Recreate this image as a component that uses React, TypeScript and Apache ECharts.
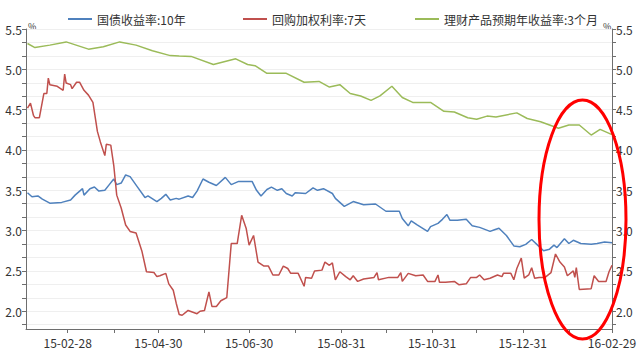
import React, { useEffect, useRef } from "react";
import * as echarts from "echarts";

const legendNames = ["国债收益率:10年", "回购加权利率:7天", "理财产品预期年收益率:3个月"];

const xLabelDates = ["2015-02-28", "2015-04-30", "2015-06-30", "2015-08-31", "2015-10-31", "2015-12-31", "2016-02-29"];
const xTickDates = [
  "2015-02-28", "2015-03-31", "2015-04-30", "2015-05-31", "2015-06-30", "2015-07-31",
  "2015-08-31", "2015-09-30", "2015-10-31", "2015-11-30", "2015-12-31", "2016-01-31", "2016-02-29",
];
const yLabels = [2.0, 2.5, 3.0, 3.5, 4.0, 4.5, 5.0, 5.5];

const bond10Y: [string, number][] = [
  ["2015-02-01", 3.47], ["2015-02-04", 3.42], ["2015-02-08", 3.43], ["2015-02-11", 3.39], ["2015-02-16", 3.34],
  ["2015-02-24", 3.35], ["2015-03-02", 3.38], ["2015-03-05", 3.44], ["2015-03-10", 3.52], ["2015-03-11", 3.44],
  ["2015-03-15", 3.52], ["2015-03-18", 3.54], ["2015-03-21", 3.49], ["2015-03-25", 3.50], ["2015-03-28", 3.57],
  ["2015-03-31", 3.64], ["2015-04-02", 3.57], ["2015-04-05", 3.59], ["2015-04-08", 3.69], ["2015-04-11", 3.67],
  ["2015-04-16", 3.54], ["2015-04-21", 3.41], ["2015-04-23", 3.43], ["2015-04-29", 3.36], ["2015-05-02", 3.40],
  ["2015-05-05", 3.45], ["2015-05-08", 3.38], ["2015-05-12", 3.40], ["2015-05-14", 3.39], ["2015-05-20", 3.43],
  ["2015-05-23", 3.41], ["2015-05-26", 3.49], ["2015-05-30", 3.64], ["2015-06-03", 3.60], ["2015-06-08", 3.56],
  ["2015-06-14", 3.66], ["2015-06-18", 3.57], ["2015-06-23", 3.61], ["2015-07-02", 3.61], ["2015-07-05", 3.50],
  ["2015-07-08", 3.43], ["2015-07-12", 3.51], ["2015-07-15", 3.54], ["2015-07-19", 3.50], ["2015-07-22", 3.52],
  ["2015-07-25", 3.46], ["2015-07-29", 3.43], ["2015-07-31", 3.47], ["2015-08-07", 3.46], ["2015-08-12", 3.53],
  ["2015-08-15", 3.50], ["2015-08-19", 3.52], ["2015-08-25", 3.46], ["2015-08-27", 3.40], ["2015-09-02", 3.30],
  ["2015-09-08", 3.36], ["2015-09-15", 3.32], ["2015-09-23", 3.33], ["2015-09-30", 3.24], ["2015-10-09", 3.24],
  ["2015-10-11", 3.15], ["2015-10-15", 3.06], ["2015-10-17", 3.12], ["2015-10-21", 3.07], ["2015-10-28", 2.99],
  ["2015-10-30", 3.05], ["2015-11-04", 3.09], ["2015-11-07", 3.14], ["2015-11-10", 3.20], ["2015-11-12", 3.13],
  ["2015-11-17", 3.13], ["2015-11-23", 3.14], ["2015-11-27", 3.06], ["2015-12-02", 3.04], ["2015-12-09", 2.99],
  ["2015-12-12", 3.01], ["2015-12-15", 3.03], ["2015-12-20", 2.94], ["2015-12-25", 2.81], ["2015-12-29", 2.80],
  ["2016-01-02", 2.83], ["2016-01-06", 2.89], ["2016-01-10", 2.82], ["2016-01-14", 2.75], ["2016-01-18", 2.77],
  ["2016-01-21", 2.82], ["2016-01-23", 2.79], ["2016-01-28", 2.90], ["2016-01-31", 2.84], ["2016-02-03", 2.88],
  ["2016-02-08", 2.84], ["2016-02-15", 2.83], ["2016-02-19", 2.84], ["2016-02-24", 2.86], ["2016-02-29", 2.85],
];

const repo7D: [string, number][] = [
  ["2015-02-01", 4.52], ["2015-02-03", 4.58], ["2015-02-05", 4.43], ["2015-02-06", 4.40], ["2015-02-09", 4.40],
  ["2015-02-10", 4.50], ["2015-02-12", 4.70], ["2015-02-14", 4.70], ["2015-02-15", 4.89], ["2015-02-16", 4.81],
  ["2015-02-21", 4.79], ["2015-02-25", 4.74], ["2015-02-26", 4.94], ["2015-02-27", 4.83], ["2015-03-02", 4.81],
  ["2015-03-03", 4.76], ["2015-03-06", 4.84], ["2015-03-08", 4.84], ["2015-03-11", 4.74], ["2015-03-14", 4.68],
  ["2015-03-17", 4.59], ["2015-03-20", 4.23], ["2015-03-22", 4.10], ["2015-03-25", 3.93], ["2015-03-26", 4.07],
  ["2015-03-29", 4.06], ["2015-03-31", 3.81], ["2015-04-02", 3.44], ["2015-04-05", 3.28], ["2015-04-08", 3.07],
  ["2015-04-11", 2.99], ["2015-04-15", 2.97], ["2015-04-19", 2.74], ["2015-04-22", 2.49], ["2015-04-27", 2.48],
  ["2015-04-29", 2.43], ["2015-05-01", 2.44], ["2015-05-05", 2.47], ["2015-05-07", 2.34], ["2015-05-10", 2.26],
  ["2015-05-12", 2.10], ["2015-05-14", 1.96], ["2015-05-16", 1.95], ["2015-05-20", 2.01], ["2015-05-26", 1.97],
  ["2015-05-28", 2.00], ["2015-05-31", 2.01], ["2015-06-03", 2.24], ["2015-06-05", 2.06], ["2015-06-08", 2.06],
  ["2015-06-11", 2.13], ["2015-06-15", 2.17], ["2015-06-18", 2.84], ["2015-06-22", 2.84], ["2015-06-25", 3.19],
  ["2015-06-28", 3.03], ["2015-06-30", 2.82], ["2015-07-03", 2.94], ["2015-07-06", 2.61], ["2015-07-10", 2.56],
  ["2015-07-13", 2.56], ["2015-07-16", 2.45], ["2015-07-20", 2.45], ["2015-07-23", 2.56], ["2015-07-26", 2.53],
  ["2015-07-28", 2.47], ["2015-08-02", 2.47], ["2015-08-06", 2.31], ["2015-08-07", 2.42], ["2015-08-11", 2.41],
  ["2015-08-13", 2.50], ["2015-08-18", 2.51], ["2015-08-20", 2.61], ["2015-08-23", 2.57], ["2015-08-25", 2.60],
  ["2015-08-27", 2.39], ["2015-08-30", 2.49], ["2015-09-03", 2.43], ["2015-09-06", 2.39], ["2015-09-08", 2.44],
  ["2015-09-11", 2.37], ["2015-09-15", 2.40], ["2015-09-22", 2.42], ["2015-09-24", 2.48], ["2015-09-25", 2.39],
  ["2015-10-02", 2.42], ["2015-10-08", 2.42], ["2015-10-10", 2.48], ["2015-10-11", 2.37], ["2015-10-15", 2.47],
  ["2015-10-20", 2.44], ["2015-10-25", 2.45], ["2015-10-28", 2.37], ["2015-11-02", 2.37], ["2015-11-04", 2.45],
  ["2015-11-05", 2.36], ["2015-11-09", 2.36], ["2015-11-15", 2.37], ["2015-11-18", 2.33], ["2015-11-23", 2.34],
  ["2015-11-26", 2.42], ["2015-11-30", 2.42], ["2015-12-02", 2.45], ["2015-12-05", 2.39], ["2015-12-09", 2.41],
  ["2015-12-14", 2.45], ["2015-12-17", 2.43], ["2015-12-18", 2.47], ["2015-12-23", 2.47], ["2015-12-25", 2.39],
  ["2015-12-27", 2.53], ["2015-12-30", 2.66], ["2016-01-01", 2.41], ["2016-01-04", 2.45], ["2016-01-06", 2.54],
  ["2016-01-08", 2.41], ["2016-01-11", 2.42], ["2016-01-15", 2.42], ["2016-01-19", 2.48], ["2016-01-22", 2.71],
  ["2016-01-25", 2.61], ["2016-01-28", 2.55], ["2016-01-30", 2.44], ["2016-02-03", 2.50], ["2016-02-04", 2.42],
  ["2016-02-05", 2.54], ["2016-02-07", 2.27], ["2016-02-15", 2.28], ["2016-02-17", 2.44], ["2016-02-20", 2.37],
  ["2016-02-25", 2.37], ["2016-02-27", 2.49], ["2016-02-29", 2.57],
];

const wealth3M: [string, number][] = [
  ["2015-02-01", 5.32], ["2015-02-06", 5.27], ["2015-02-16", 5.30], ["2015-02-27", 5.34], ["2015-03-14", 5.25],
  ["2015-03-24", 5.28], ["2015-04-04", 5.34], ["2015-04-15", 5.30], ["2015-04-26", 5.23], ["2015-05-08", 5.17],
  ["2015-05-14", 5.165], ["2015-05-22", 5.16], ["2015-06-06", 5.06], ["2015-06-21", 5.13], ["2015-06-29", 5.06],
  ["2015-07-04", 5.045], ["2015-07-12", 4.95], ["2015-07-25", 4.95], ["2015-08-06", 4.84], ["2015-08-16", 4.85],
  ["2015-08-23", 4.78], ["2015-08-30", 4.81], ["2015-09-06", 4.70], ["2015-09-13", 4.67], ["2015-09-20", 4.615],
  ["2015-09-26", 4.67], ["2015-10-04", 4.79], ["2015-10-11", 4.65], ["2015-10-18", 4.59], ["2015-10-30", 4.59],
  ["2015-11-08", 4.48], ["2015-11-15", 4.47], ["2015-11-24", 4.40], ["2015-11-30", 4.38], ["2015-12-07", 4.42],
  ["2015-12-13", 4.41], ["2015-12-27", 4.46], ["2016-01-03", 4.39], ["2016-01-12", 4.35], ["2016-01-24", 4.27],
  ["2016-01-31", 4.31], ["2016-02-07", 4.31], ["2016-02-15", 4.185], ["2016-02-21", 4.255], ["2016-02-29", 4.19],
];

const ts = (s: string) => {
  const [y, m, d] = s.split("-").map(Number);
  return Date.UTC(y, m - 1, d);
};
const pad = (n: number) => (n < 10 ? "0" + n : "" + n);
const fmt = (v: number) => {
  const d = new Date(v);
  return `${pad(d.getUTCFullYear() % 100)}-${pad(d.getUTCMonth() + 1)}-${pad(d.getUTCDate())}`;
};

const FONT = "'Noto Sans CJK SC', 'Noto Sans', sans-serif";

export default function App() {
  const ref = useRef<HTMLDivElement>(null);
  useEffect(() => {
    if (!ref.current) return;
    const chart = echarts.init(ref.current, undefined, { renderer: "svg" });
    const yMin = 1.78;
    const yMax = 5.5;
    const yTicks: number[] = [];
    for (let i = 0; i <= 22; i++) yTicks.push(Math.round((5.5 - i / 6) * 10000) / 10000);
    const yAxisCommon = {
      type: "value",
      min: yMin,
      max: yMax,
      splitNumber: 7,
      axisLine: { show: true, lineStyle: { color: "#6e6e6e", width: 1 } },
      axisTick: { show: true, length: 4, customValues: yTicks, lineStyle: { color: "#6e6e6e" } },
      axisLabel: {
        customValues: yLabels,
        formatter: (v: number) => v.toFixed(1),
        color: "#333",
        fontSize: 12,
        fontFamily: FONT,
        margin: 4,
      },
    };
    const colors = ["#4f81bd", "#c0504d", "#9bbb59"];
    const legendLeft = [63, 238, 410];
    chart.setOption({
      animation: false,
      textStyle: { fontFamily: FONT },
      grid: { left: 26, right: 30, top: 29, bottom: 27, containLabel: false },
      legend: legendNames.map((n, i) => ({
        data: [{ name: n, icon: "rect" }],
        left: legendLeft[i],
        top: 8,
        itemWidth: 24,
        itemHeight: 2,
        textStyle: { color: "#333", fontSize: 12, fontFamily: FONT },
        itemGap: 0,
      })),
      xAxis: {
        type: "value",
        min: ts("2015-01-31"),
        max: ts("2016-02-29"),
        splitLine: { show: false },
        axisLine: { lineStyle: { color: "#6e6e6e" } },
        axisTick: { show: true, length: 4, customValues: xTickDates.map(ts), lineStyle: { color: "#6e6e6e" } },
        axisLabel: {
          customValues: xLabelDates.map(ts),
          formatter: (v: number) => fmt(v),
          color: "#333",
          fontSize: 12,
          fontFamily: FONT,
          margin: 7,
          showMaxLabel: true,
          hideOverlap: false,
        },
      },
      yAxis: [
        {
          ...yAxisCommon,
          position: "left",
          splitLine: { show: true, lineStyle: { color: "#efefef", width: 1 } },
        },
        {
          ...yAxisCommon,
          position: "right",
          splitLine: { show: false },
        },
      ],
      series: [
        { name: legendNames[0], data: bond10Y.map(([d, v]) => [ts(d), v]) },
        { name: legendNames[1], data: repo7D.map(([d, v]) => [ts(d), v]) },
        { name: legendNames[2], data: wealth3M.map(([d, v]) => [ts(d), v]) },
      ].map((s, i) => ({
        ...s,
        type: "line",
        yAxisIndex: 0,
        symbol: "none",
        showSymbol: false,
        lineStyle: { color: colors[i], width: 1.5 },
        itemStyle: { color: colors[i] },
      })),
      graphic: [
        { type: "text", left: 28, top: 22, style: { text: "%", fontSize: 9, fill: "#333", fontFamily: FONT } },
        { type: "text", left: 603, top: 22, style: { text: "%", fontSize: 9, fill: "#333", fontFamily: FONT } },
        {
          type: "ellipse",
          shape: { cx: 582.5, cy: 219.5, rx: 43.5, ry: 119.5 },
          style: { fill: "none", stroke: "#ff0000", lineWidth: 3 },
          z: 100,
        },
      ],
    });
    return () => chart.dispose();
  }, []);
  return <div ref={ref} style={{ position: "fixed", left: 0, top: 0, width: 642, height: 356, background: "#fff" }} />;
}
